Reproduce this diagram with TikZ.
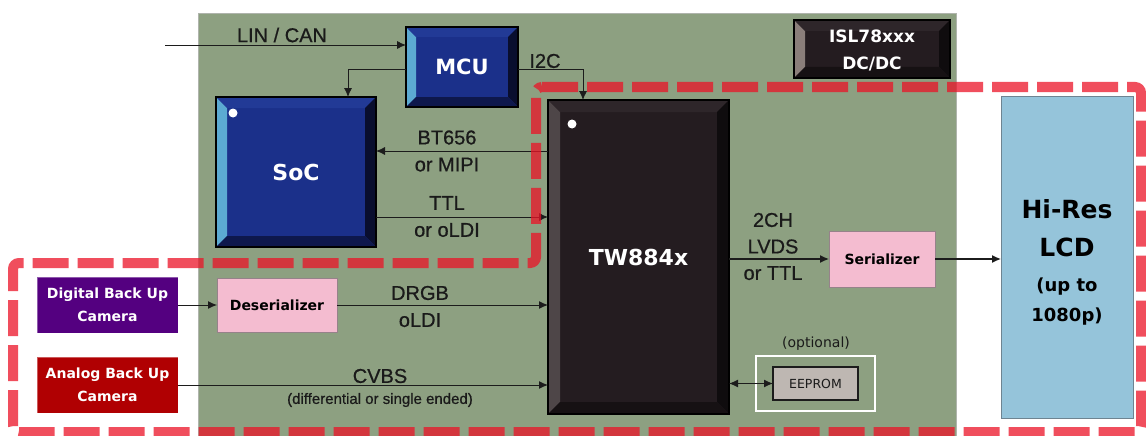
\documentclass[tikz,border=0pt]{standalone}
\usepackage{fontspec}
\setmainfont[FakeBold=0.7]{Liberation Sans}
\newfontfamily\dvs{DejaVu Sans}
\usetikzlibrary{arrows.meta}
\definecolor{board}{RGB}{141,160,129}
\definecolor{boardedge}{RGB}{175,180,172}
\definecolor{mcumain}{RGB}{27,48,138}
\definecolor{mculeft}{RGB}{92,170,210}
\definecolor{mcutop}{RGB}{34,58,150}
\definecolor{mcuright}{RGB}{9,14,46}
\definecolor{mcubot}{RGB}{14,24,76}
\definecolor{twmain}{RGB}{36,28,32}
\definecolor{twleft}{RGB}{78,70,72}
\definecolor{twtop}{RGB}{46,38,42}
\definecolor{twright}{RGB}{15,12,14}
\definecolor{twbot}{RGB}{22,17,19}
\definecolor{islleft}{RGB}{138,126,122}
\definecolor{purplecam}{RGB}{84,0,128}
\definecolor{redcam}{RGB}{176,0,2}
\definecolor{pinkbox}{RGB}{244,188,208}
\definecolor{pinkedge}{RGB}{150,130,138}
\definecolor{lcdblue}{RGB}{149,196,218}
\definecolor{lcdedge}{RGB}{110,132,145}
\definecolor{eepromfill}{RGB}{190,183,178}
\definecolor{wire}{RGB}{28,28,28}
\definecolor{labelink}{RGB}{26,26,26}
\definecolor{zonered}{RGB}{235,19,39}
\newcommand\bevelit[6]{%
  \fill[#3] (#1.north west) -- ([shift={(#2,#2)}]#1.north west) -- ([shift={(#2,-#2)}]#1.south west) -- (#1.south west) -- cycle;
  \fill[#4] (#1.north west) -- (#1.north east) -- ([shift={(-#2,#2)}]#1.north east) -- ([shift={(#2,#2)}]#1.north west) -- cycle;
  \fill[#5] (#1.north east) -- (#1.south east) -- ([shift={(-#2,-#2)}]#1.south east) -- ([shift={(-#2,#2)}]#1.north east) -- cycle;
  \fill[#6] (#1.south west) -- (#1.south east) -- ([shift={(-#2,-#2)}]#1.south east) -- ([shift={(#2,-#2)}]#1.south west) -- cycle;
  \draw[black, line width=1.5pt] (#1.north west) rectangle (#1.south east);
}
\begin{document}
\begin{tikzpicture}[x=1pt,y=-1pt,
  box/.style={rectangle, inner sep=0pt, outer sep=0pt, align=center},
  chip/.style={box, fill=#1, text=white, font=\dvs\bfseries\fontsize{21}{24}\selectfont},
  cam/.style={box, fill=#1, draw=white, draw opacity=0.35, line width=0.6pt, text=white, minimum width=141pt, minimum height=56pt,
    font=\dvs\bfseries\fontsize{14}{23}\selectfont},
  pinkblk/.style={box, fill=pinkbox, draw=pinkedge, line width=0.8pt, text=black,
    font=\dvs\bfseries\fontsize{14}{16}\selectfont},
  lbl/.style={inner sep=0pt, align=center, text=labelink, font=\fontsize{20}{27}\selectfont},
  arr/.style={draw=wire, line width=1pt, -{Latex[length=9pt,width=8pt]}},
  darr/.style={draw=wire, line width=1pt, {Latex[length=9pt,width=8pt]}-{Latex[length=9pt,width=8pt]}},
  zone/.style={draw=zonered, draw opacity=0.75, line width=10pt, dash pattern=on 36pt off 9pt, rounded corners=6pt}
]
\useasboundingbox (0,0) rectangle (1146,436);
\fill[white] (0,0) rectangle (1146,436);

% board
\draw[fill=board, draw=boardedge, line width=1pt] (198,14) rectangle (956,440);

% chips
\node[chip=mcumain, minimum width=112pt, minimum height=80pt] (mcu) at (462,67) {};
\bevelit{mcu}{10}{mculeft}{mcutop}{mcuright}{mcubot}
\node[box, text=white, font=\dvs\bfseries\fontsize{21}{24}\selectfont] (mculabel) at (mcu) {MCU};

\node[chip=mcumain, minimum width=160pt, minimum height=150pt] (soc) at (296,172) {};
\bevelit{soc}{11}{mculeft}{mcutop}{mcuright}{mcubot}
\node[box, text=white, font=\dvs\bfseries\fontsize{22}{24}\selectfont] (soclabel) at (soc) {SoC};
\fill[white] (233,113) circle (4.5pt);

\node[chip=twmain, minimum width=181pt, minimum height=314pt] (tw) at (638.5,257) {};
\bevelit{tw}{12}{twleft}{twtop}{twright}{twbot}
\node[box, text=white, font=\dvs\bfseries\fontsize{22}{24}\selectfont] (twlabel) at (tw) {TW884x};
\fill[white] (572,124) circle (4.5pt);

\node[chip=twmain, minimum width=156pt, minimum height=58pt] (isl) at (872,49) {};
\bevelit{isl}{11}{islleft}{twtop}{twright}{twbot}
\node[box, text=white, font=\dvs\bfseries\fontsize{17}{27}\selectfont] (isllabel) at (872,50.5) {ISL78xxx\\DC/DC};

% cameras and serdes
\node[cam=purplecam] (dcam) at (107.5,305) {Digital Back Up\\Camera};
\node[cam=redcam] (acam) at (107.5,385) {Analog Back Up\\Camera};
\node[pinkblk, minimum width=120pt, minimum height=54pt] (deser) at (277,305) {Deserializer};
\node[pinkblk, minimum width=106pt, minimum height=56pt] (ser) at (882,259) {Serializer};

% LCD
\node[box, fill=lcdblue, draw=lcdedge, line width=0.8pt, minimum width=132pt, minimum height=322pt,
  text=black, font=\dvs\bfseries\fontsize{25}{30}\selectfont] (lcd) at (1067,257) {};
\node[box, text=black, font=\dvs\bfseries\fontsize{25}{30}\selectfont] (lcdlabel) at (1067,262)
  {Hi-Res\\[8pt]LCD\\[5pt]{\fontsize{18}{30}\selectfont (up to}\\{\fontsize{18}{30}\selectfont 1080p)}};

% EEPROM
\node[box, draw=white, line width=1.3pt, minimum width=119pt, minimum height=55pt] (optframe) at (815.5,383.5) {};
\node[box, fill=eepromfill, draw=wire, line width=1.5pt, minimum width=85pt, minimum height=33pt,
  text=labelink, font=\dvs\fontsize{12.5}{14}\selectfont] (eeprom) at (815.5,383.5) {EEPROM};
\node[lbl, font=\dvs\fontsize{14}{16}\selectfont] (optlbl) at (816,344) {(optional)};

% labels
\node[lbl] (linlbl) at (282,35) {LIN / CAN};
\node[lbl] (i2clbl) at (545,61) {I2C};
\node[lbl] (btlbl) at (447,151) {BT656\\or MIPI};
\node[lbl] (ttllbl) at (447,216.5) {TTL\\or oLDI};
\node[lbl] (drgblbl) at (420,306.5) {DRGB\\oLDI};
\node[lbl] (cvbslbl) at (380,376) {CVBS};
\node[lbl, font=\fontsize{15}{17}\selectfont] (difflbl) at (380,400) {(differential or single ended)};
\node[lbl, font=\fontsize{20}{26.5}\selectfont] (lvdslbl) at (773,246.5) {2CH\\LVDS\\or TTL};

% connectors
\coordinate (linstart) at (165,45);
\draw[arr, line width=0.8pt] (linstart) -- (linstart -| mcu.west);
\draw[arr, line width=0.8pt] ([yshift=-2pt]mcu.west) -| ([xshift=52pt]soc.north);
\draw[arr, line width=0.8pt] ([yshift=-2pt]mcu.east) -| ([xshift=-55.5pt]tw.north);
\draw[arr, line width=0.8pt] (tw.west |- 0,151) -- (soc.east |- 0,151);
\draw[arr, line width=0.8pt] (soc.east |- 0,217) -- (tw.west |- 0,217);
\draw[arr] (dcam) -- (deser);
\draw[arr] (deser) -- (deser -| tw.west);
\draw[arr] (acam) -- (acam -| tw.west);
\draw[arr, line width=1.3pt] (tw.east |- ser) -- (ser);
\draw[arr, line width=1.3pt] (ser) -- (ser -| lcd.west);
\draw[darr] (tw.east |- eeprom) -- (eeprom);

% red dashed zone
\draw[zone] (536,87) -- (1141,87) -- (1141,432) -- (13,432) -- (13,263) -- (536,263) -- cycle;
\end{tikzpicture}
\end{document}
